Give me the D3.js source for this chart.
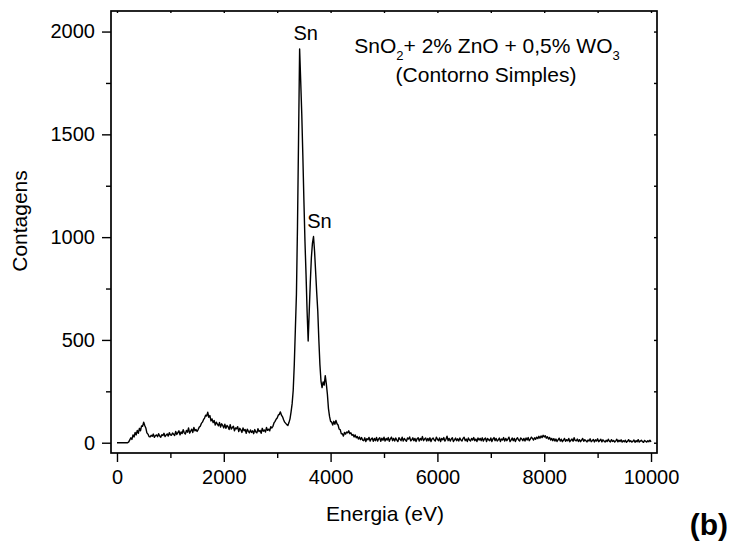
<!DOCTYPE html>
<html>
<head>
<meta charset="utf-8">
<script src="https://cdn.jsdelivr.net/npm/d3@7"></script>
<style>
  html, body { margin: 0; padding: 0; background: #fff; }
  svg { display: block; font-family: "Liberation Sans", Arial, Helvetica, sans-serif; }
</style>
</head>
<body>
<svg id="chart" width="731" height="544"></svg>
<script>
// EDS spectrum: counts per 20 eV channel, starting at 0 eV
const channelWidth = 20;
const counts = [
  0, 0, 0, 0, 0, 0, 0, 0, 0, 0, 0,
  4, 14, 24, 16, 38, 28, 50, 38, 60, 46, 70, 58, 82, 80, 100, 84, 72, 48, 42, 30,
  28, 36, 31, 42, 26, 34, 38, 29, 44, 33, 27, 39, 35, 46, 30, 37, 43, 32, 49, 38,
  36, 47, 41, 35, 55, 40, 49, 58, 38, 52, 45, 63, 48, 42, 60, 51, 72, 47, 56, 66, 50, 74, 58, 64, 55,
  64, 76, 80, 94, 100, 112, 120, 134, 130, 148,
  124, 132, 106, 116, 98, 108, 86, 100, 90, 82, 98, 76, 92, 84, 72,
  90, 70, 84, 78, 64, 88, 66, 74, 80, 58, 72, 68, 78, 54, 70, 62, 50, 72, 58, 64, 46, 66, 55, 48, 62,
  50, 58, 44, 64, 52, 48, 68, 54, 60, 46, 70, 56, 62, 52, 74, 60, 66, 58, 78, 72,
  80, 96, 104, 114, 120, 134, 138, 150, 134, 126, 112, 100, 94, 88, 84, 98, 116, 150, 190,
  255, 380, 550, 720, 1050, 1480, 1915, 1760, 1600, 1400, 1180, 980, 820, 640, 495,
  640, 780, 900, 970, 1003, 930, 830, 730, 640, 500, 380, 300, 268, 296, 280, 326, 286, 236, 166, 128, 104,
  100, 86, 104, 90, 108, 92, 86, 66, 64, 44, 44, 32, 50, 42, 52, 48, 58, 44, 48, 36, 40, 28, 38, 24, 30, 18, 28, 15, 25, 13,
  10, 24, 6, 20, 14, 26, 8, 18, 23, 7,
  21, 10, 26, 8, 18, 24, 7, 22, 12, 27,
  8, 21, 13, 25, 7, 19, 27, 10, 21, 8,
  23, 13, 6, 24, 17, 10, 27, 8, 21, 14,
  7, 23, 18, 28, 9, 14, 24, 10, 21, 6,
  19, 24, 8, 21, 13, 30, 10, 18, 23, 8,
  21, 10, 24, 6, 18, 23, 13, 8, 27, 17,
  10, 23, 6, 21, 14, 25, 8, 17, 32, 10,
  21, 8, 18, 24, 6, 14, 23, 10, 19, 8,
  23, 13, 8, 21, 27, 10, 18, 6, 23, 13,
  8, 21, 13, 25, 10, 18, 6, 23, 13, 21,
  10, 24, 8, 18, 23, 6, 21, 14, 10, 23,
  6, 18, 25, 10, 21, 8, 14, 23, 6, 18,
  13, 25, 8, 21, 10, 18, 27, 6, 13, 23,
  10, 21, 6, 18, 24, 13, 8, 23, 18, 10,
  21, 8, 23, 13, 25, 10, 18, 27, 21, 13,
  24, 17, 27, 20, 31, 22, 33, 25, 36, 28,
  34, 22, 29, 18, 26, 13, 21, 10, 20, 8,
  18, 6, 14, 22, 8, 17, 5, 12, 21, 7,
  15, 9, 21, 5, 12, 18, 7, 24, 11, 9,
  18, 6, 15, 5, 12, 21, 7, 15, 10, 4,
  13, 8, 19, 5, 10, 16, 4, 14, 8, 19,
  5, 11, 17, 4, 14, 8, 3, 12, 6, 17,
  8, 4, 15, 6, 11, 3, 9, 17, 4, 12,
  6, 14, 3, 10, 5, 12, 2, 7, 15, 5,
  10, 3, 7, 13, 2, 10, 5, 15, 3, 8,
  12, 5, 2, 11, 7, 3, 10, 5, 12, 4
];

const xDomain = [-112, 10112];
const yDomain = [-50, 2100];
const xMajorTicks = [0, 2000, 4000, 6000, 8000, 10000];
const xMinorTicks = [1000, 3000, 5000, 7000, 9000];
const xTopTicks = [0, 1000, 2000, 3000, 4000, 5000, 6000, 7000, 8000, 9000, 10000];
const yMajorTicks = [0, 500, 1000, 1500, 2000];
const yMinorTicks = [250, 750, 1250, 1750];
const yRightTicks = [0, 250, 500, 750, 1000, 1250, 1500, 1750, 2000];

const peaks = [
  { energy: 3420, count: 1915, label: "Sn" },
  { energy: 3680, count: 1003, label: "Sn" }
];

const xTitle = "Energia (eV)";
const yTitle = "Contagens";
const panelTag = "(b)";

const margin = { left: 111, top: 11, right: 74, bottom: 91 };
const width = 731, height = 544;
const svg = d3.select("#chart");

const x = d3.scaleLinear().domain(xDomain).range([margin.left, width - margin.right]);
const y = d3.scaleLinear().domain(yDomain).range([height - margin.bottom, margin.top]);

const plotLeft = x.range()[0], plotRight = x.range()[1];
const plotTop = y.range()[1], plotBottom = y.range()[0];

// spectrum line
const spectrum = counts.map((c, i) => ({ e: i * channelWidth, c }));
svg.append("path")
  .datum(spectrum)
  .attr("fill", "none")
  .attr("stroke", "#000")
  .attr("stroke-width", 1.4)
  .attr("stroke-linejoin", "round")
  .attr("d", d3.line().x(d => x(d.e)).y(d => y(d.c)));

// axes
const tickFont = g => g.selectAll("text")
  .attr("font-family", "'Liberation Sans', Arial, sans-serif")
  .attr("font-size", 20)
  .attr("fill", "#000");
const tickStroke = g => { g.select(".domain").remove(); g.selectAll("line").attr("stroke", "#000").attr("stroke-width", 1.4); };

svg.append("g").attr("transform", `translate(0,${plotBottom})`)
  .call(d3.axisBottom(x).tickValues(xMajorTicks).tickSize(9).tickPadding(8).tickFormat(d3.format("d")))
  .call(tickStroke).call(tickFont);
svg.append("g").attr("transform", `translate(0,${plotBottom})`)
  .call(d3.axisBottom(x).tickValues(xMinorTicks).tickSize(5).tickFormat(""))
  .call(tickStroke);
svg.append("g").attr("transform", `translate(0,${plotTop})`)
  .call(d3.axisBottom(x).tickValues(xTopTicks).tickSize(2).tickFormat(""))
  .call(tickStroke);

svg.append("g").attr("transform", `translate(${plotLeft},0)`)
  .call(d3.axisLeft(y).tickValues(yMajorTicks).tickSize(9).tickPadding(7).tickFormat(d3.format("d")))
  .call(tickStroke).call(tickFont);
svg.append("g").attr("transform", `translate(${plotLeft},0)`)
  .call(d3.axisLeft(y).tickValues(yMinorTicks).tickSize(5).tickFormat(""))
  .call(tickStroke);
svg.append("g").attr("transform", `translate(${plotRight},0)`)
  .call(d3.axisLeft(y).tickValues(yRightTicks).tickSize(3).tickFormat(""))
  .call(tickStroke);

// plot frame
svg.append("rect")
  .attr("x", plotLeft).attr("y", plotTop)
  .attr("width", plotRight - plotLeft).attr("height", plotBottom - plotTop)
  .attr("fill", "none").attr("stroke", "#000").attr("stroke-width", 1.7);

// peak labels
svg.selectAll(".peak").data(peaks).enter().append("text")
  .attr("x", d => x(d.energy) + 6)
  .attr("y", d => y(d.count) - 9)
  .attr("text-anchor", "middle")
  .attr("font-size", 20)
  .text(d => d.label);

// sample composition note
const note = svg.append("text").attr("text-anchor", "middle").attr("font-size", 21);
const line1 = note.append("tspan").attr("x", 487).attr("y", 53);
line1.append("tspan").text("SnO");
line1.append("tspan").attr("font-size", 13).attr("dy", 7).text("2");
line1.append("tspan").attr("dy", -7).text("+ 2% ZnO + 0,5% WO");
line1.append("tspan").attr("font-size", 13).attr("dy", 7).text("3");
svg.append("text").attr("text-anchor", "middle").attr("font-size", 21)
  .attr("x", 486).attr("y", 81.5).text("(Contorno Simples)");

// axis titles
svg.append("text").attr("text-anchor", "middle").attr("font-size", 21)
  .attr("x", (plotLeft + plotRight) / 2 + 1).attr("y", 521).text(xTitle);
svg.append("text").attr("text-anchor", "middle").attr("font-size", 21)
  .attr("transform", `translate(27,221) rotate(-90)`).text(yTitle);

svg.append("text").attr("text-anchor", "end").attr("font-size", 30).attr("font-weight", "bold")
  .attr("x", 728).attr("y", 535).text(panelTag);
</script>
</body>
</html>
